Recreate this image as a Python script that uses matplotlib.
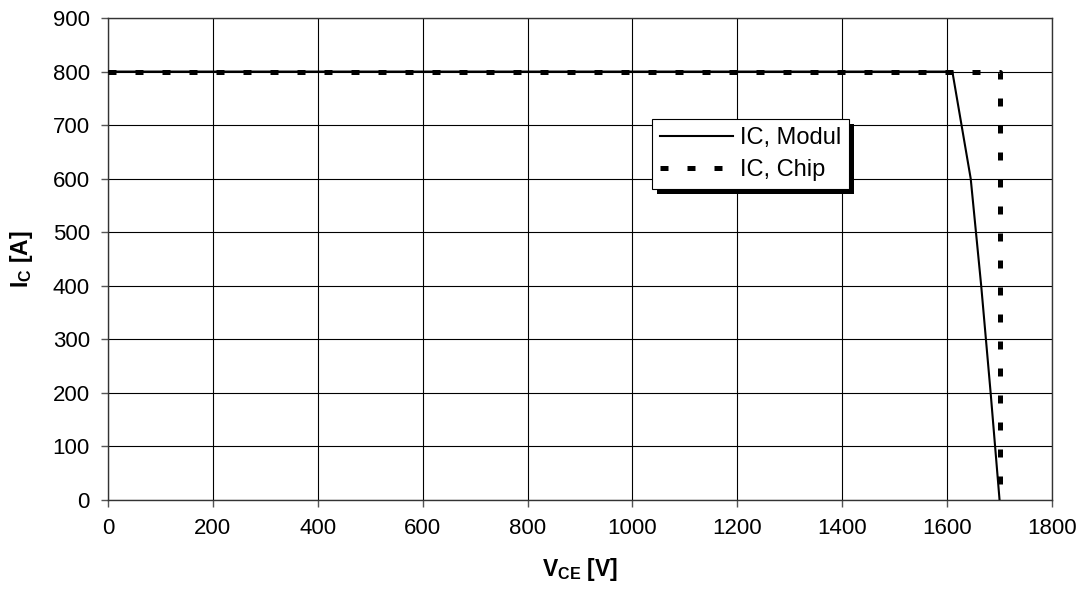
import matplotlib
matplotlib.use("Agg")
import matplotlib.pyplot as plt
from matplotlib.patches import Rectangle

# Data
modul_v = [0, 1610, 1645, 1665, 1683, 1700]
modul_i = [800, 800, 600, 400, 200, 0]
chip_v = [0, 1700, 1700]
chip_i = [800, 800, 0]
x_ticks = [0, 200, 400, 600, 800, 1000, 1200, 1400, 1600, 1800]
y_ticks = [0, 100, 200, 300, 400, 500, 600, 700, 800, 900]
labels = ["IC, Modul", "IC, Chip"]

plt.rcParams['font.family'] = ['Liberation Sans', 'DejaVu Sans']
plt.rcParams['mathtext.fontset'] = 'custom'
plt.rcParams['mathtext.rm'] = 'Liberation Sans'
plt.rcParams['mathtext.bf'] = 'Liberation Sans:bold'

fig = plt.figure(figsize=(10.82, 5.92), dpi=100)
ax = fig.add_axes([108/1082, 92/592, 944/1082, 482/592])

ax.plot(modul_v, modul_i, color='black', lw=1.5, label=labels[0], zorder=3)
ln, = ax.plot(chip_v, chip_i, color='black', lw=3.6, label=labels[1], zorder=3,
              solid_capstyle='butt', dash_capstyle='butt')
ln.set_dashes([1.6, 3.8])

ax.set_xlim(0, 1800)
ax.set_ylim(0, 900)
ax.set_xticks(x_ticks)
ax.set_yticks(y_ticks)
ax.grid(True, color='black', lw=0.8)
ax.set_axisbelow(True)
ax.tick_params(direction='out', length=5, width=1, color='#555555', labelsize=16, pad=8)
for s in ax.spines.values():
    s.set_color('#333333')
    s.set_linewidth(1.0)

ax.set_xlabel(r'$\mathbf{V_{CE}}$ [V]', fontsize=16.5, fontweight='bold', labelpad=12)
ax.set_ylabel(r'$\mathbf{I_{C}}$ [A]', fontsize=16.5, fontweight='bold', labelpad=13)

leg = ax.legend(loc='upper left', bbox_to_anchor=(0.576, 0.79), borderaxespad=0,
                fontsize=17, frameon=True, fancybox=False, edgecolor='black',
                framealpha=1, handlelength=3.1, handletextpad=0.3,
                borderpad=0.33, labelspacing=0.43)
leg.get_frame().set_linewidth(0.8)
leg.set_zorder(6)

fig.canvas.draw()
bb = leg.get_window_extent()
shadow = Rectangle((bb.x0 + 5, bb.y0 - 5), bb.width, bb.height, transform=None,
                   facecolor='black', edgecolor='none', zorder=5.5, clip_on=False)
ax.add_artist(shadow)

fig.savefig('out.png', dpi=100)
